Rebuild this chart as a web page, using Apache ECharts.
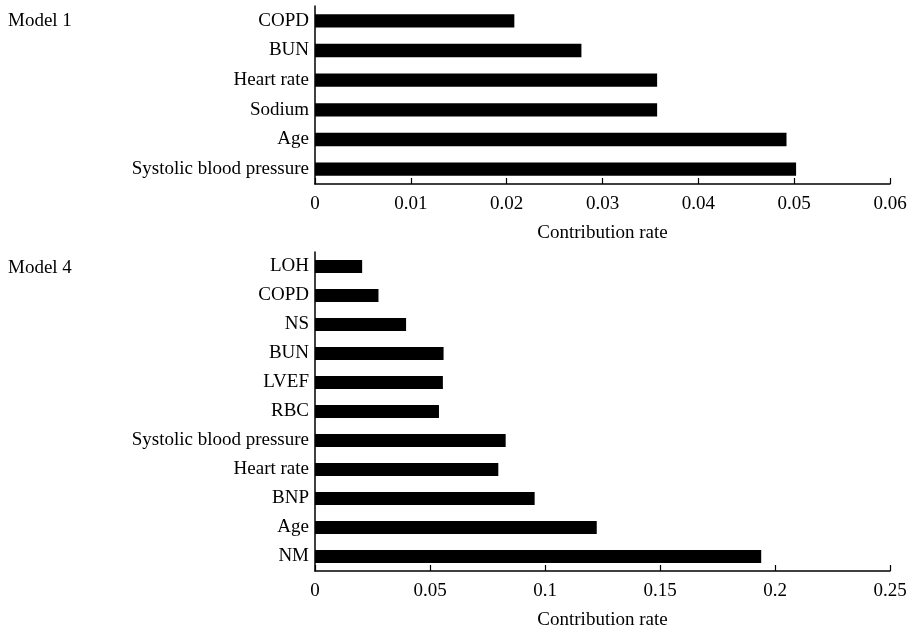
<!DOCTYPE html>
<html><head><meta charset="utf-8">
<script src="https://cdn.jsdelivr.net/npm/echarts@6/dist/echarts.min.js"></script>
<style>html,body{margin:0;padding:0;background:#fff}#c{width:910px;height:635px}</style>
</head><body><div id="c"></div>
<script>
// Model 1 (top to bottom as shown)
var m1Categories = ["COPD", "BUN", "Heart rate", "Sodium", "Age", "Systolic blood pressure"];
var m1Values = [0.0208, 0.0278, 0.0357, 0.0357, 0.0492, 0.0502];
var m1Ticks = [0, 0.01, 0.02, 0.03, 0.04, 0.05, 0.06];
// Model 4 (top to bottom as shown)
var m4Categories = ["LOH", "COPD", "NS", "BUN", "LVEF", "RBC", "Systolic blood pressure", "Heart rate", "BNP", "Age", "NM"];
var m4Values = [0.0205, 0.0276, 0.0396, 0.0559, 0.0556, 0.0539, 0.0829, 0.0797, 0.0955, 0.1225, 0.194];
var m4Ticks = [0, 0.05, 0.1, 0.15, 0.2, 0.25];

var font = "Liberation Serif";
var fs = 19;
var chart = echarts.init(document.getElementById('c'));
function xAxis(idx, ticks) {
  return {
    type: 'value', gridIndex: idx, min: ticks[0], max: ticks[ticks.length - 1],
    interval: ticks[1] - ticks[0],
    name: 'Contribution rate', nameLocation: 'middle', nameGap: 40,
    nameTextStyle: {fontFamily: font, fontSize: fs, color: '#000'},
    axisLine: {show: true, lineStyle: {color: '#000', width: 1.5}},
    axisTick: {show: true, inside: true, length: 6, lineStyle: {color: '#000', width: 1.2}},
    axisLabel: {fontFamily: font, fontSize: fs, color: '#000', margin: 11,
      formatter: function (v) { return String(+v.toFixed(4)); }},
    splitLine: {show: false}
  };
}
function yAxis(idx, cats) {
  return {
    type: 'category', gridIndex: idx, data: cats.slice().reverse(),
    axisLine: {show: true, lineStyle: {color: '#000', width: 1.5}},
    axisTick: {show: false},
    axisLabel: {fontFamily: font, fontSize: fs, color: '#000', margin: 6}
  };
}
chart.setOption({
  animation: false,
  backgroundColor: '#fff',
  title: [
    {text: 'Model 1', left: 8, top: 12, padding: 0, textStyle: {fontFamily: font, fontSize: fs, fontWeight: 'normal', color: '#000'}},
    {text: 'Model 4', left: 8, top: 259, padding: 0, textStyle: {fontFamily: font, fontSize: fs, fontWeight: 'normal', color: '#000'}}
  ],
  grid: [
    {left: 315, right: 20, top: 6, height: 178},
    {left: 315, right: 20, top: 252, height: 323}
  ],
  xAxis: [xAxis(0, m1Ticks), xAxis(1, m4Ticks)],
  yAxis: [yAxis(0, m1Categories), yAxis(1, m4Categories)],
  series: [
    {type: 'bar', xAxisIndex: 0, yAxisIndex: 0, data: m1Values.slice().reverse(),
     barWidth: '45%', itemStyle: {color: '#000'}},
    {type: 'bar', xAxisIndex: 1, yAxisIndex: 1, data: m4Values.slice().reverse(),
     barWidth: '44%', itemStyle: {color: '#000'}}
  ]
});
</script></body></html>
